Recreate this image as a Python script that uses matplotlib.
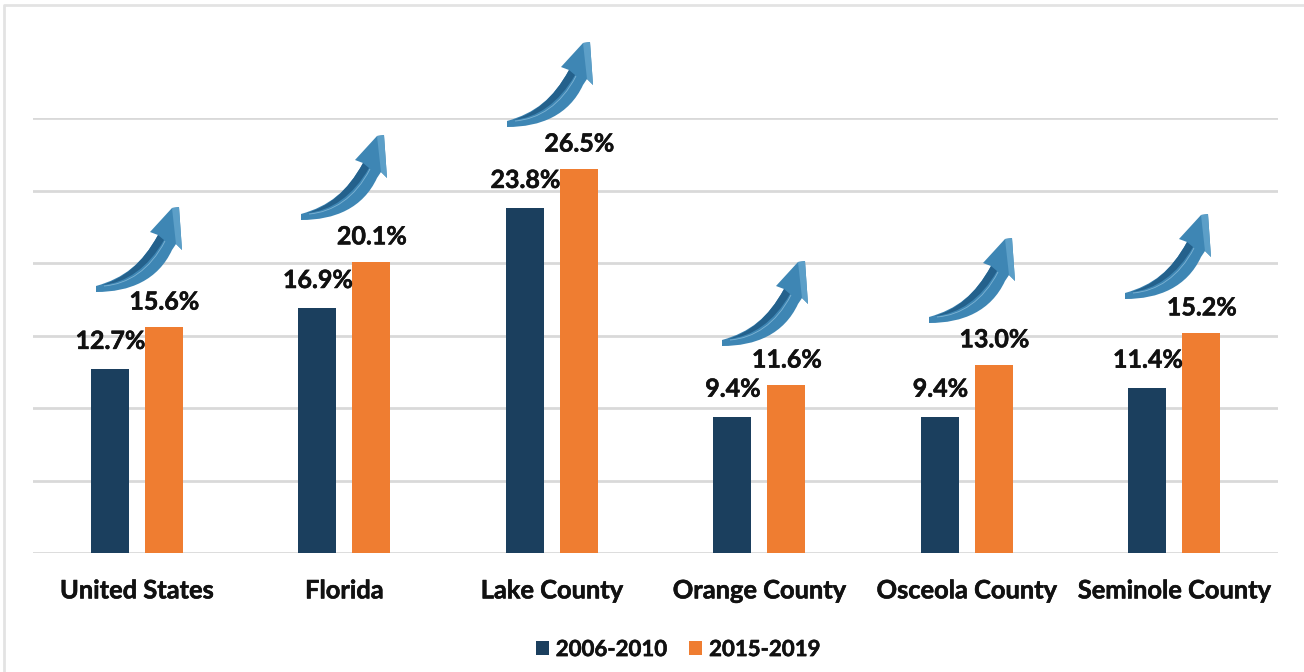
import numpy as np
import matplotlib
matplotlib.use('Agg')
import matplotlib.pyplot as plt
import matplotlib.patheffects as pe
from matplotlib.path import Path
from matplotlib.patches import PathPatch
from matplotlib.lines import Line2D
from matplotlib.transforms import Affine2D

plt.rcParams['font.family'] = ['Lato', 'DejaVu Sans']

places = ['United States', 'Florida', 'Lake County', 'Orange County', 'Osceola County', 'Seminole County']
early = [12.7, 16.9, 23.8, 9.4, 9.4, 11.4]
late = [15.6, 20.1, 26.5, 11.6, 13.0, 15.2]
early_name = '2006-2010'
late_name = '2015-2019'

# where each arrow's tail starts, pixels from top left of the image
tail_x = [96, 301, 507, 722, 929, 1125]
tail_y = [292, 220, 127, 346, 323, 299]

W, H = 1304, 672
navy = '#1b3f5e'
orange = '#ef7d31'
grid = '#d9d9d9'
ink = '#111111'
thick = [pe.withStroke(linewidth=0.4, foreground=ink)]

# arrow outlines, pixels relative to the tail, y up
M, L, C, Z = Path.MOVETO, Path.LINETO, Path.CURVE4, Path.CLOSEPOLY
body = Path([(0, 0), (0, 6), (28, 14), (46, 28), (62, 57), (54, 60), (76, 84), (83, 85), (86, 42),
             (80, 48), (76, 42), (62, 12), (34, 0), (0, 0), (0, 0)],
            [M, L, C, C, C, L, L, L, L, L, L, C, C, C, Z])
ridge = Path([(62, 57), (46, 28), (28, 14), (6, 7), (30, 9), (52, 24), (68, 52), (62, 57)],
             [M, C, C, C, C, C, C, Z])
shine = Path([(8, 6), (32, 8), (54, 22), (69, 51)], [M, C, C, C])
side = Path([(76, 84), (83, 85), (86, 42), (80, 48), (76, 84)], [M, L, L, L, Z])

fig = plt.figure(figsize=(W / 100, H / 100), dpi=100)
ax = fig.add_axes([33 / W, 1 - 553 / H, (1278 - 33) / W, (553 - 118) / H])

x = np.arange(len(places))
ax.bar(x - 0.13, early, 0.183, color=navy, label=early_name, zorder=3)
ax.bar(x + 0.13, late, 0.183, color=orange, label=late_name, zorder=3)

for i in x:
    ax.annotate('%.1f%%' % early[i], (i - 0.13, early[i]), xytext=(0.5, 11.5), textcoords='offset points',
                ha='center', va='bottom', fontsize=18, fontweight='bold', color=ink,
                annotation_clip=False, zorder=5, path_effects=thick)
    ax.annotate('%.1f%%' % late[i], (i + 0.13, late[i]), xytext=(0.5, 9.5), textcoords='offset points',
                ha='center', va='bottom', fontsize=18, fontweight='bold', color=ink,
                annotation_clip=False, zorder=5, path_effects=thick)

ax.set_xlim(-0.5, 5.5)
ax.set_ylim(0, 30)
ax.set_yticks(np.arange(0, 31, 5))
ax.set_yticklabels([])
ax.set_xticks(x)
ax.set_xticklabels(places, fontsize=18.3, fontweight='bold', color=ink, path_effects=thick)
ax.tick_params(length=0)
ax.tick_params(axis='x', pad=19)
ax.grid(axis='y', color=grid, lw=2, zorder=0)
ax.set_axisbelow(True)
for s in ax.spines.values():
    s.set_visible(False)

# frame round the chart, only top and left are in the image
fig.add_artist(Line2D([4 / W, 4 / W, 1], [0, 1 - 5 / H, 1 - 5 / H], color='#e3e3e3', lw=2))

for tx, ty in zip(tail_x, tail_y):
    t = Affine2D().translate(tx, H - ty)
    fig.add_artist(PathPatch(body, fc='#3e86b4', ec='none', transform=t, zorder=6))
    fig.add_artist(PathPatch(ridge, fc='#24618c', ec='none', transform=t, zorder=7))
    fig.add_artist(PathPatch(shine, fc='none', ec='#7fb4d4', lw=0.6, transform=t, zorder=7))
    fig.add_artist(PathPatch(side, fc='#5c9fc8', ec='none', transform=t, zorder=7))

leg = fig.legend(loc='lower center', bbox_to_anchor=(0.52, -0.012), ncol=2, frameon=False,
                 prop={'size': 16, 'weight': 'bold'}, handlelength=0.585, handleheight=0.6,
                 handletextpad=0.3, columnspacing=1.03, labelcolor=ink)
for txt in leg.get_texts():
    txt.set_path_effects(thick)

fig.savefig('out.png', dpi=100)
